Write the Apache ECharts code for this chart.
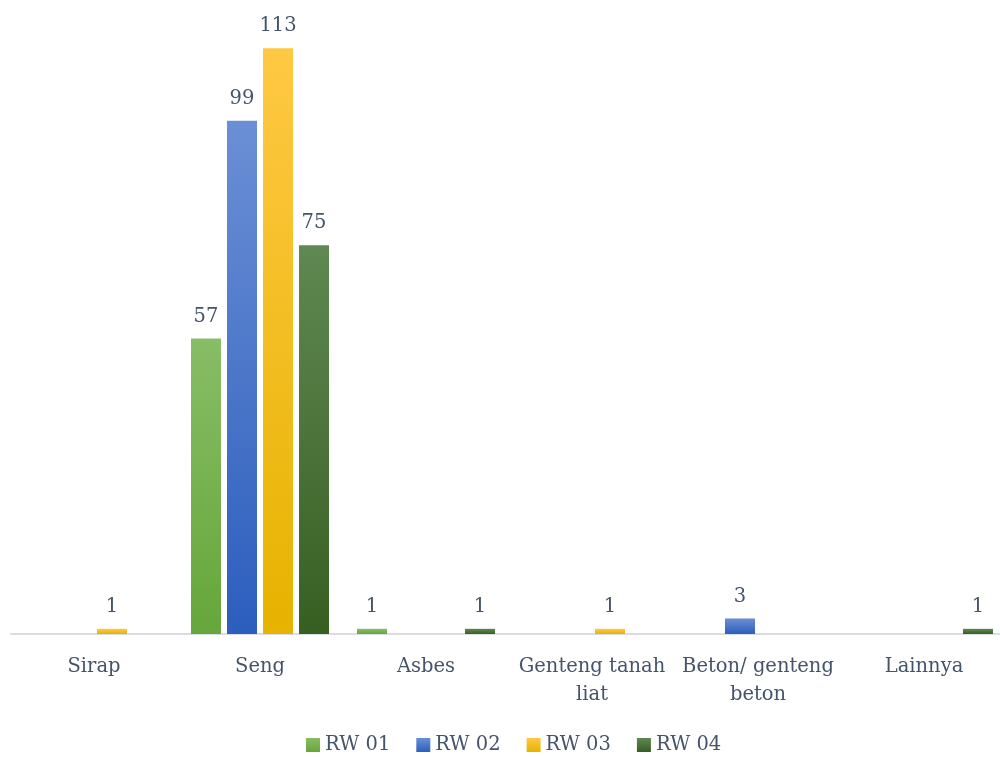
<!DOCTYPE html>
<html><head><meta charset="utf-8">
<script src="https://cdn.jsdelivr.net/npm/echarts@6/dist/echarts.min.js"></script>
<style>html,body{margin:0;padding:0;background:#fff}#c{width:1000px;height:757px}</style>
</head><body><div id="c"></div>
<script>
const categories = ['Sirap', 'Seng', 'Asbes', 'Genteng tanah\nliat', 'Beton/ genteng\nbeton', 'Lainnya'];
const seriesNames = ['RW 01', 'RW 02', 'RW 03', 'RW 04'];
const rw01 = [0, 57, 1, 0, 0, 0];
const rw02 = [0, 99, 0, 0, 3, 0];
const rw03 = [1, 113, 0, 1, 0, 0];
const rw04 = [0, 75, 1, 0, 0, 1];
const values = [rw01, rw02, rw03, rw04];
const gradients = [['#87bd66', '#66a63a'], ['#6b8fd5', '#2c5ebd'], ['#ffc843', '#e6b300'], ['#5f8852', '#385f22']];
const FONT = 'DejaVu Serif';
const TXT = '#44546a';
const chart = echarts.init(document.getElementById('c'));
chart.setOption({
  animation: false,
  grid: { left: 11, width: 996, top: 12, height: 622, containLabel: false, outerBoundsMode: 'none' },
  legend: {
    top: 735, left: 306, padding: 0, itemWidth: 14, itemHeight: 14, itemGap: 26,
    icon: 'rect',
    textStyle: { fontFamily: FONT, fontSize: 19.5, color: TXT },
    data: seriesNames
  },
  xAxis: {
    type: 'category', data: categories,
    axisLine: { lineStyle: { color: '#d9dde3', width: 2 } },
    axisTick: { show: false },
    axisLabel: { fontFamily: FONT, fontSize: 19.5, color: TXT, margin: 19, lineHeight: 28, interval: 0 }
  },
  yAxis: { type: 'value', min: 0, max: 120, show: false, splitLine: { show: false } },
  series: values.map((v, i) => ({
    name: seriesNames[i], type: 'bar', data: v,
    barWidth: 30, barGap: '20%',
    itemStyle: {
      color: new echarts.graphic.LinearGradient(0, 0, 0, 1, [
        { offset: 0, color: gradients[i][0] }, { offset: 1, color: gradients[i][1] }
      ])
    },
    label: {
      show: true, position: 'top', distance: 12,
      fontFamily: FONT, fontSize: 19.5, color: TXT,
      formatter: p => (p.value === 0 ? '' : p.value)
    }
  }))
});
</script></body></html>
